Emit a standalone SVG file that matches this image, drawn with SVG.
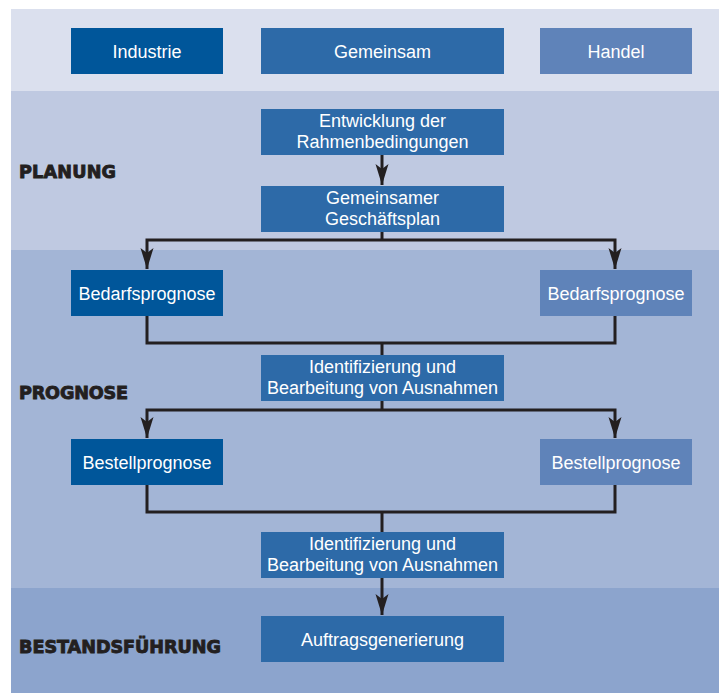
<svg xmlns="http://www.w3.org/2000/svg" width="719" height="693" viewBox="0 0 719 693">
<style>
.box text{font-family:"Liberation Sans",Arial,sans-serif;font-size:18px;fill:#ffffff;text-anchor:middle}
.lbl{font-family:"DejaVu Sans",sans-serif;font-weight:900;font-size:17.6px;fill:#231f20;stroke:#231f20;stroke-width:0.9}
.ind{fill:#00569a}
.gem{fill:#2d6aa8}
.han{fill:#5f83b9}
.con path{fill:none;stroke:#231f20;stroke-width:3}
</style>
<defs>
<marker id="ah" markerUnits="userSpaceOnUse" markerWidth="26" markerHeight="16" refX="24" refY="8" orient="auto" viewBox="0 0 26 16">
<path d="M24,8 L3,1.5 L8,8 L3,14.5 Z" fill="#231f20"/>
</marker>
</defs>
<rect x="0" y="0" width="719" height="693" fill="#ffffff"/>
<rect x="11" y="9" width="708" height="82" fill="#dbe0ee"/>
<rect x="11" y="91" width="708" height="159" fill="#bfc9e1"/>
<rect x="11" y="250" width="708" height="338" fill="#a3b5d6"/>
<rect x="11" y="588" width="708" height="105" fill="#8ca4cd"/>
<text class="lbl" x="19" y="178" textLength="97">PLANUNG</text>
<text class="lbl" x="19" y="399" textLength="109">PROGNOSE</text>
<text class="lbl" x="19" y="653" textLength="202">BESTANDSFÜHRUNG</text>
<g class="con">
<path d="M382,155 V185" marker-end="url(#ah)"/>
<path d="M382,232 V240"/>
<path d="M382,240 H147 V269" marker-end="url(#ah)"/>
<path d="M382,240 H615 V269" marker-end="url(#ah)"/>
<path d="M147,316 V343 H615 V316"/>
<path d="M382,343 V355"/>
<path d="M382,401 V410"/>
<path d="M382,410 H147 V438" marker-end="url(#ah)"/>
<path d="M382,410 H615 V438" marker-end="url(#ah)"/>
<path d="M147,485 V512 H615 V485"/>
<path d="M382,512 V532"/>
<path d="M382,578 V615" marker-end="url(#ah)"/>
</g>
<g id="industrie" class="box"><rect class="ind" x="71" y="28" width="152" height="46"/><text x="147" y="58">Industrie</text></g>
<g id="gemeinsam" class="box"><rect class="gem" x="261" y="28" width="243" height="46"/><text x="382.5" y="58">Gemeinsam</text></g>
<g id="handel" class="box"><rect class="han" x="540" y="28" width="152" height="46"/><text x="616" y="58">Handel</text></g>
<g id="entwicklung" class="box"><rect class="gem" x="261" y="109" width="243" height="46"/><text x="382.5" y="127">Entwicklung der</text><text x="382.5" y="148">Rahmenbedingungen</text></g>
<g id="geschaeftsplan" class="box"><rect class="gem" x="261" y="186" width="243" height="46"/><text x="382.5" y="204">Gemeinsamer</text><text x="382.5" y="225">Geschäftsplan</text></g>
<g id="bedarf-ind" class="box"><rect class="ind" x="71" y="270" width="152" height="46"/><text x="147" y="300">Bedarfsprognose</text></g>
<g id="bedarf-han" class="box"><rect class="han" x="540" y="270" width="152" height="46"/><text x="616" y="300">Bedarfsprognose</text></g>
<g id="ausnahmen1" class="box"><rect class="gem" x="261" y="355" width="243" height="46"/><text x="382.5" y="373">Identifizierung und</text><text x="382.5" y="394">Bearbeitung von Ausnahmen</text></g>
<g id="bestell-ind" class="box"><rect class="ind" x="71" y="439" width="152" height="46"/><text x="147" y="469">Bestellprognose</text></g>
<g id="bestell-han" class="box"><rect class="han" x="540" y="439" width="152" height="46"/><text x="616" y="469">Bestellprognose</text></g>
<g id="ausnahmen2" class="box"><rect class="gem" x="261" y="532" width="243" height="46"/><text x="382.5" y="550">Identifizierung und</text><text x="382.5" y="571">Bearbeitung von Ausnahmen</text></g>
<g id="auftrag" class="box"><rect class="gem" x="261" y="616" width="243" height="46"/><text x="382.5" y="646">Auftragsgenerierung</text></g>
</svg>
